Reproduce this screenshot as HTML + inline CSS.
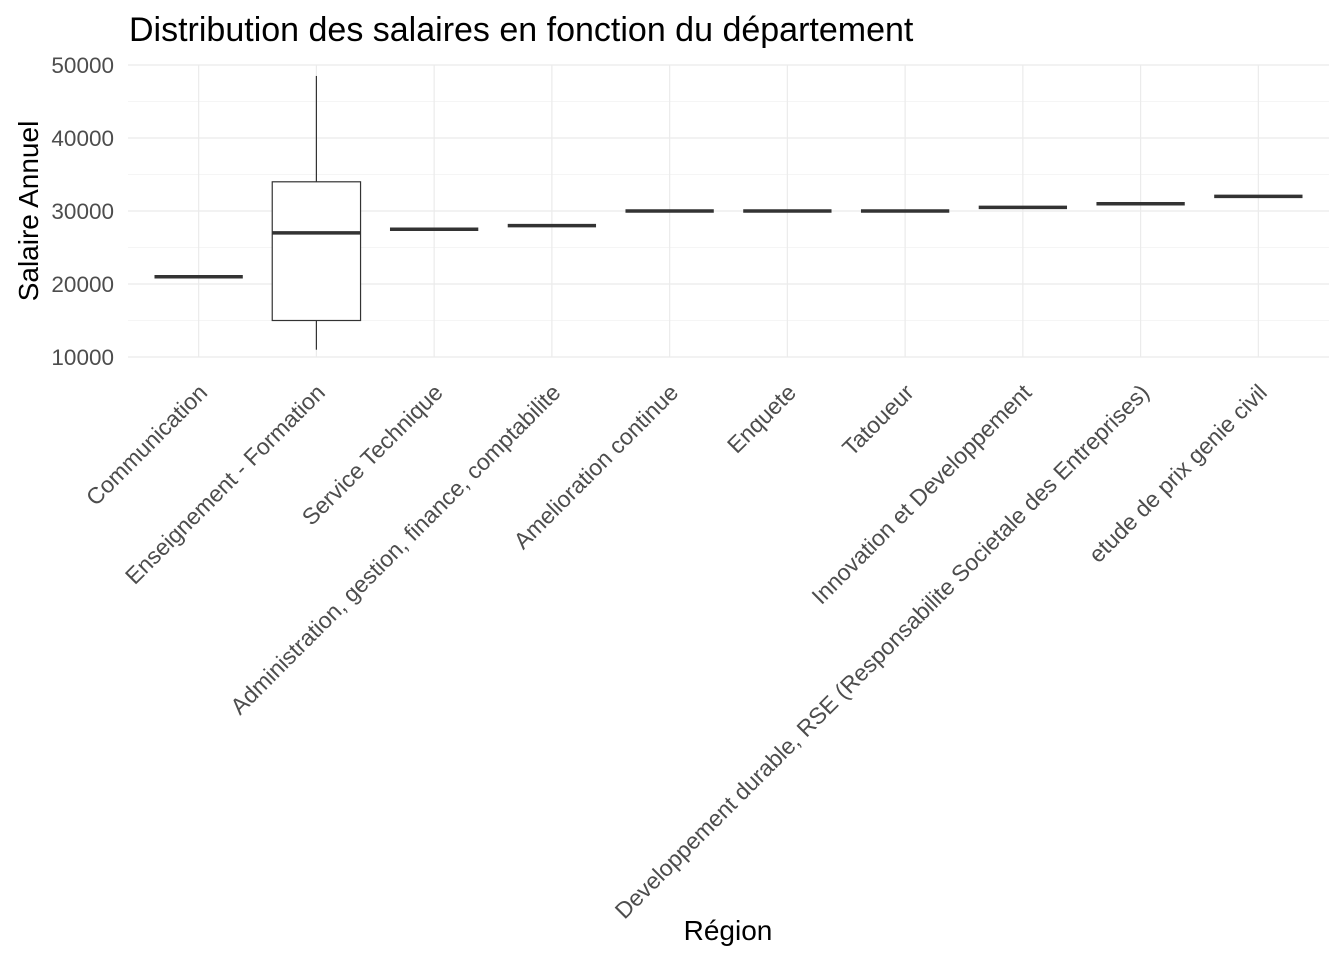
<!DOCTYPE html>
<html><head><meta charset="utf-8"><style>
body{margin:0;background:#fff}
svg{display:block;font-family:"Liberation Sans",Arial,sans-serif}
</style></head><body>
<svg id="chart" width="1344" height="960" viewBox="0 0 1344 960">
<text x="129" y="41" font-size="34" fill="#000">Distribution des salaires en fonction du département</text>
<text transform="translate(38,211) rotate(-90)" text-anchor="middle" font-size="28" fill="#000">Salaire Annuel</text>
<text x="728" y="940" text-anchor="middle" font-size="28" fill="#000">Région</text>
<g id="grid"></g><g id="marks"></g><g id="axes"></g>
</svg>
<script>
const categories=["Communication","Enseignement - Formation","Service Technique","Administration, gestion, finance, comptabilite","Amelioration continue","Enquete","Tatoueur","Innovation et Developpement","Developpement durable, RSE (Responsabilite Societale des Entreprises)","etude de prix genie civil"];
const lowWhisker=[21000,11000,27500,28000,30000,30000,30000,30500,31000,32000];
const q1=[21000,15000,27500,28000,30000,30000,30000,30500,31000,32000];
const median=[21000,27000,27500,28000,30000,30000,30000,30500,31000,32000];
const q3=[21000,34000,27500,28000,30000,30000,30000,30500,31000,32000];
const highWhisker=[21000,48500,27500,28000,30000,30000,30000,30500,31000,32000];
const yTicks=[10000,20000,30000,40000,50000];
const yMinor=[15000,25000,35000,45000];

const NS="http://www.w3.org/2000/svg";
const px0=128,px1=1329;
const y=v=>357-(v-10000)*(292/40000);
const step=(px1-px0)/(categories.length-1+1.2);
const x=i=>px0+(0.6+i)*step;
function mk(tag,attrs,parent){const e=document.createElementNS(NS,tag);for(const k in attrs)e.setAttribute(k,attrs[k]);document.getElementById(parent).appendChild(e);return e;}
yMinor.forEach(v=>{const l=mk('line',{x1:px0,x2:px1,y1:y(v),y2:y(v),stroke:'#ebebeb','stroke-width':0.6},'grid');

});
yTicks.forEach(v=>{const l=mk('line',{x1:px0,x2:px1,y1:y(v),y2:y(v),stroke:'#ebebeb','stroke-width':1.2},'grid');


const t=mk('text',{x:114,y:y(v)+8,'text-anchor':'end','font-size':'22.5','fill':'#4d4d4d'},'axes');t.textContent=v;

});
categories.forEach((c,i)=>{
const l=mk('line',{x1:x(i),x2:x(i),y1:y(50000),y2:y(10000),stroke:'#ebebeb','stroke-width':1.2},'grid');


const cx=x(i),hw=step*0.375;
const g=document.createElementNS(NS,'g');document.getElementById('marks').appendChild(g);


const add=(tag,a)=>{const e=document.createElementNS(NS,tag);for(const k in a)e.setAttribute(k,a[k]);g.appendChild(e);return e;};
add('line',{x1:cx,x2:cx,y1:y(highWhisker[i]),y2:y(q3[i]),stroke:'#333','stroke-width':1.2});
add('line',{x1:cx,x2:cx,y1:y(q1[i]),y2:y(lowWhisker[i]),stroke:'#333','stroke-width':1.2});
add('rect',{x:cx-hw,y:y(q3[i]),width:2*hw,height:Math.max(0,y(q1[i])-y(q3[i])),fill:'#fff',stroke:'#333','stroke-width':1.2});
add('line',{x1:cx-hw,x2:cx+hw,y1:y(median[i]),y2:y(median[i]),stroke:'#333','stroke-width':3.5});
const t=mk('text',{transform:`translate(${cx+10},${394}) rotate(-45)`,'text-anchor':'end','font-size':'23','fill':'#4d4d4d'},'axes');t.textContent=c;


});
</script>
</body></html>
